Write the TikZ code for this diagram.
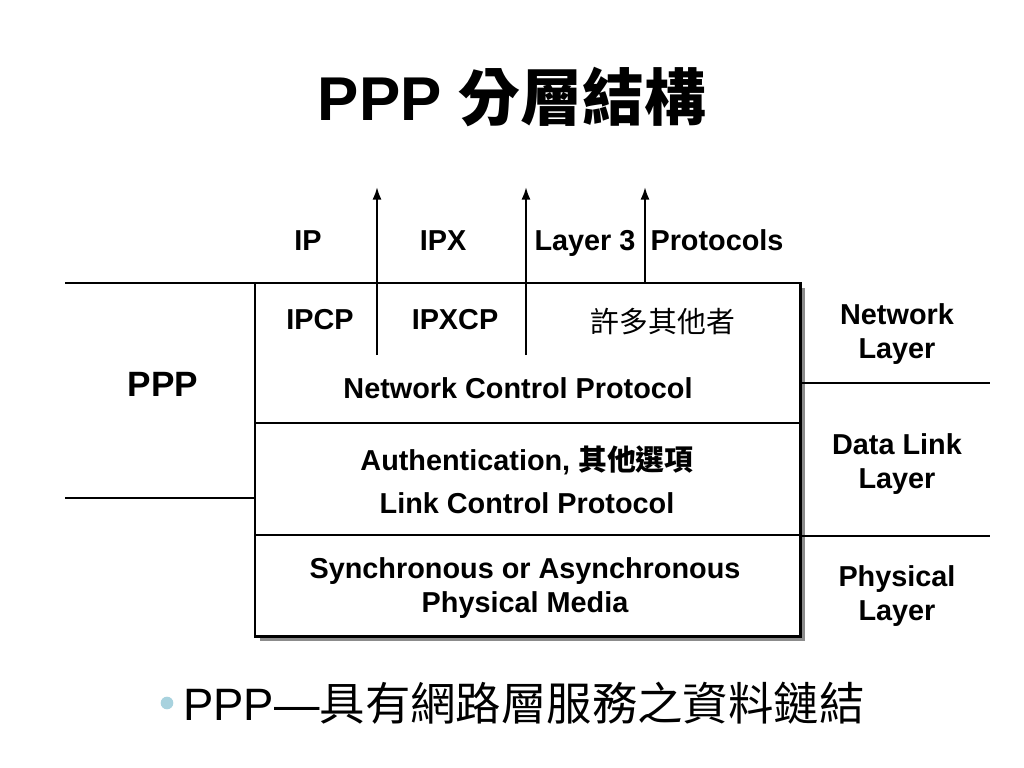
\documentclass[tikz,border=0pt]{standalone}
\usepackage{fontspec}
\setmainfont{Liberation Sans}
\newfontfamily\cjk{Noto Sans CJK TC}
\usetikzlibrary{shadows,arrows.meta,positioning}
\definecolor{bulletblue}{RGB}{168,210,222}

\begin{document}
\begin{tikzpicture}[x=0.025cm,y=-0.025cm]
            \tikzstyle{layer box}=[draw,line width=2pt,fill=white,outer sep=0pt,
              minimum width=13.625cm,
              drop shadow={shadow xshift=3.5pt,shadow yshift=-3.5pt,fill=black!45,opacity=1}]
            \tikzstyle{label text}=[font=\bfseries\fontsize{20.5}{24.5}\selectfont,align=center,inner sep=0pt]
            \tikzstyle{one line}=[text height=0.72em,text depth=0.21em]
            \tikzstyle{side line}=[line width=1.5pt]
            \tikzstyle{up arrow}=[line width=1.5pt,-{Latex[length=9pt,width=6.5pt]}]

            \useasboundingbox (0,0) rectangle (1024,768);

            % title
            \node(title) at (512,97) {\fontsize{44}{50}\selectfont\bfseries PPP {\cjk 分層結構}};

            % the three layers
            \node(ncp)[layer box,minimum height=3.5cm,anchor=north west] at (255,283) {};
            \node(lcp)[layer box,minimum height=2.8cm,below=0pt of ncp] {};
            \node(phy)[layer box,minimum height=2.525cm,below=0pt of lcp] {};

            % protocols above
            \node(ip)[label text,one line] at (308,247) {IP};
            \node(ipx)[label text,one line] at (443,247) {IPX};
            \node(l3)[label text,one line] at (585,247) {Layer 3};
            \node(prot)[label text,one line] at (717,247) {Protocols};

            \node(ipcp)[label text,one line] at (320,326) {IPCP};
            \node(ipxcp)[label text,one line] at (455,326) {IPXCP};
            \node(others)[label text,font=\cjk\fontsize{20.5}{24.5}\selectfont] at (663,322) {許多其他者};
            \node(ncptext)[label text,one line] at (518,395) {Network Control Protocol};

            \node(auth)[label text,one line] at (527,467) {Authentication, {\cjk 其他選項}};
            \node(lcptext)[label text,one line] at (527,510) {Link Control Protocol};

            \node(phytext)[label text] at (525,588) {Synchronous or Asynchronous\\Physical Media};

            % arrows
            \coordinate(a1s) at (377,355); \coordinate(a1e) at (377,187);
            \coordinate(a2s) at (526,355); \coordinate(a2e) at (526,187);
            \coordinate(a3s) at (645,283); \coordinate(a3e) at (645,187);
            \draw[up arrow] (a1s) -- (a1e);
            \draw[up arrow] (a2s) -- (a2e);
            \draw[up arrow] (a3s) -- (a3e);

            % left side
            \node(ppp)[font=\bfseries\fontsize{25}{30}\selectfont] at (163,384) {PPP};
            \coordinate(l1) at (65,283); \coordinate(l2) at (65,498);
            \coordinate(l1e) at (255,283); \coordinate(l2e) at (255,498);
            \draw[side line] (l1) -- (l1e);
            \draw[side line] (l2) -- (l2e);

            % right side
            \node(netl)[label text] at (897,334) {Network\\Layer};
            \node(dll)[label text] at (897,464) {Data Link\\Layer};
            \node(phyl)[label text] at (897,596) {Physical\\Layer};
            \coordinate(r1) at (800,383); \coordinate(r1e) at (990,383);
            \coordinate(r2) at (800,536); \coordinate(r2e) at (990,536);
            \draw[side line] (r1) -- (r1e);
            \draw[side line] (r2) -- (r2e);

            % bullet line
            \node(dot)[circle,fill=bulletblue,inner sep=0pt,minimum size=9pt] at (167,703) {};
            \node(note)[anchor=west,inner sep=0pt,font=\fontsize{32.3}{38}\selectfont] at (183,703) {PPP—{\cjk 具有網路層服務之資料鏈結}};
        \end{tikzpicture}
\end{document}
